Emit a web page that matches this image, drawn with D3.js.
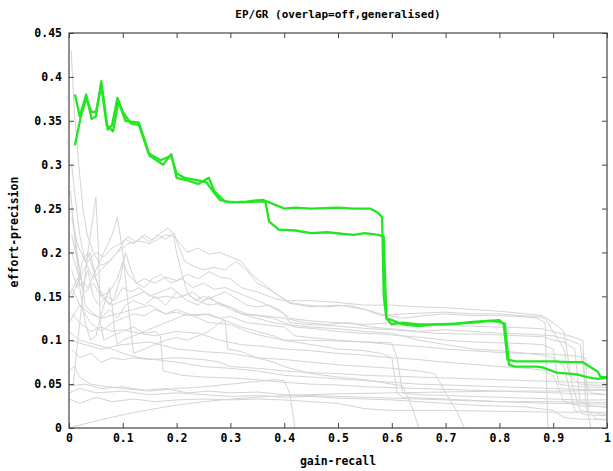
<!DOCTYPE html>
<html>
<head>
<meta charset="utf-8">
<script src="https://cdn.jsdelivr.net/npm/d3@7"></script>
<style>
  body { margin: 0; background: #fff; }
  text { font-family: "DejaVu Sans Mono", "Liberation Mono", monospace; font-weight: bold; fill: #000; }
</style>
</head>
<body>
<svg id="chart" width="613" height="471"></svg>
<script>
// Axis ticks and labels
const xTicks = [0, 0.1, 0.2, 0.3, 0.4, 0.5, 0.6, 0.7, 0.8, 0.9, 1];
const xTickLabels = ["0", "0.1", "0.2", "0.3", "0.4", "0.5", "0.6", "0.7", "0.8", "0.9", "1"];
const yTicks = [0, 0.05, 0.1, 0.15, 0.2, 0.25, 0.3, 0.35, 0.4, 0.45];
const yTickLabels = ["0", "0.05", "0.1", "0.15", "0.2", "0.25", "0.3", "0.35", "0.4", "0.45"];

// Highlighted runs: [gain-recall, effort-precision]
const runGreenA = [[0.011,0.380],[0.02,0.355],[0.032,0.38],[0.042,0.352],[0.05,0.355],[0.06,0.395],[0.072,0.340],[0.08,0.345],[0.09,0.376],[0.1,0.36],[0.115,0.347],[0.13,0.345],[0.148,0.313],[0.17,0.305],[0.19,0.31],[0.2,0.29],[0.215,0.285],[0.24,0.282],[0.255,0.280],[0.28,0.26],[0.3,0.257],[0.33,0.258],[0.36,0.26],[0.38,0.255],[0.4,0.250],[0.42,0.251],[0.45,0.250],[0.5,0.251],[0.53,0.250],[0.56,0.250],[0.575,0.245],[0.582,0.24],[0.585,0.15],[0.59,0.125],[0.6,0.118],[0.62,0.12],[0.65,0.118],[0.7,0.118],[0.75,0.12],[0.78,0.122],[0.8,0.123],[0.808,0.118],[0.815,0.078],[0.83,0.076],[0.87,0.076],[0.9,0.076],[0.93,0.075],[0.955,0.075],[0.983,0.064],[0.988,0.058],[1.0,0.058]];
const runGreenB = [[0.011,0.322],[0.022,0.355],[0.032,0.375],[0.042,0.36],[0.05,0.36],[0.06,0.39],[0.07,0.345],[0.082,0.338],[0.092,0.372],[0.105,0.35],[0.13,0.348],[0.15,0.31],[0.175,0.30],[0.19,0.312],[0.2,0.285],[0.22,0.282],[0.24,0.278],[0.26,0.285],[0.27,0.27],[0.29,0.258],[0.32,0.257],[0.35,0.258],[0.365,0.258],[0.372,0.235],[0.39,0.226],[0.42,0.225],[0.45,0.222],[0.48,0.223],[0.51,0.221],[0.53,0.220],[0.55,0.222],[0.575,0.220],[0.585,0.218],[0.59,0.125],[0.6,0.123],[0.62,0.118],[0.65,0.116],[0.68,0.118],[0.72,0.119],[0.75,0.121],[0.78,0.122],[0.8,0.121],[0.81,0.119],[0.818,0.072],[0.83,0.070],[0.87,0.070],[0.88,0.069],[0.906,0.063],[0.944,0.061],[0.963,0.058],[0.982,0.056],[1.0,0.057]];

// Background runs
const run01 = [[0.004,0.43],[0.01,0.36],[0.018,0.3],[0.026,0.25],[0.034,0.22],[0.045,0.2],[0.06,0.185],[0.075,0.19],[0.09,0.2],[0.105,0.215],[0.12,0.21],[0.135,0.218],[0.15,0.212],[0.165,0.22],[0.18,0.215],[0.195,0.222],[0.205,0.205],[0.215,0.19],[0.23,0.185],[0.25,0.18],[0.27,0.183],[0.29,0.18],[0.31,0.19],[0.33,0.18],[0.35,0.165],[0.38,0.155],[0.41,0.143],[0.44,0.14],[0.48,0.138],[0.52,0.14],[0.55,0.135],[0.58,0.13],[0.62,0.125],[0.66,0.128],[0.7,0.13],[0.75,0.128],[0.8,0.128],[0.84,0.127],[0.87,0.125],[0.885,0.12],[0.89,0.0]];
const run02 = [[0.005,0.3],[0.012,0.26],[0.02,0.22],[0.03,0.19],[0.04,0.2],[0.05,0.17],[0.06,0.15],[0.075,0.155],[0.09,0.17],[0.1,0.19],[0.11,0.175],[0.125,0.165],[0.14,0.17],[0.16,0.165],[0.18,0.172],[0.2,0.168],[0.22,0.175],[0.24,0.17],[0.26,0.178],[0.28,0.172],[0.3,0.17],[0.32,0.16],[0.35,0.155],[0.38,0.148],[0.4,0.145],[0.45,0.145],[0.5,0.143],[0.55,0.14],[0.6,0.14],[0.65,0.138],[0.7,0.137],[0.75,0.135],[0.8,0.133],[0.85,0.13],[0.88,0.128],[0.9,0.12],[0.92,0.11],[0.935,0.05],[0.95,0.02],[1.0,0.015]];
const run03 = [[0.005,0.15],[0.02,0.17],[0.035,0.16],[0.05,0.18],[0.065,0.2],[0.08,0.22],[0.09,0.24],[0.1,0.2],[0.11,0.14],[0.12,0.085],[0.14,0.09],[0.16,0.095],[0.18,0.1],[0.2,0.103],[0.22,0.1],[0.24,0.105],[0.26,0.11],[0.28,0.12],[0.29,0.123],[0.295,0.09],[0.32,0.087],[0.35,0.08],[0.38,0.075],[0.4,0.07],[0.45,0.062],[0.5,0.058],[0.55,0.055],[0.6,0.05],[0.62,0.048],[0.64,0.02],[0.65,0.0]];
const run04 = [[0.008,0.05],[0.02,0.12],[0.035,0.2],[0.05,0.263],[0.055,0.2],[0.058,0.12],[0.065,0.1],[0.08,0.105],[0.1,0.11],[0.12,0.115],[0.14,0.108],[0.16,0.11],[0.17,0.105],[0.175,0.065],[0.19,0.063],[0.21,0.06],[0.25,0.058],[0.3,0.057],[0.35,0.055],[0.4,0.052],[0.45,0.05],[0.5,0.049],[0.55,0.047],[0.6,0.046],[0.65,0.045],[0.7,0.044],[0.75,0.043],[0.8,0.042],[0.85,0.041],[0.9,0.04],[0.95,0.039],[1.0,0.038]];
const run05 = [[0.0,0.0],[0.05,0.008],[0.1,0.015],[0.15,0.021],[0.2,0.026],[0.25,0.03],[0.3,0.033],[0.35,0.035],[0.4,0.037],[0.5,0.039],[0.6,0.04],[0.7,0.041],[0.8,0.042],[0.9,0.042],[1.0,0.043]];
const run06 = [[0.0,0.048],[0.03,0.05],[0.06,0.045],[0.1,0.047],[0.14,0.043],[0.18,0.045],[0.22,0.04],[0.26,0.042],[0.3,0.04],[0.35,0.041],[0.4,0.038],[0.45,0.037],[0.5,0.036],[0.55,0.035],[0.6,0.034],[0.7,0.032],[0.8,0.03],[0.9,0.03],[1.0,0.029]];
const run07 = [[0.0,0.033],[0.02,0.028],[0.05,0.035],[0.08,0.03],[0.12,0.033],[0.16,0.03],[0.2,0.032],[0.25,0.033],[0.3,0.032],[0.35,0.033],[0.4,0.032],[0.45,0.03],[0.5,0.028],[0.55,0.022],[0.6,0.02],[0.7,0.02],[0.8,0.019],[0.9,0.018],[1.0,0.018]];
const run08 = [[0.0,0.065],[0.01,0.07],[0.02,0.058],[0.04,0.05],[0.06,0.048],[0.1,0.045],[0.15,0.042],[0.2,0.045],[0.25,0.047],[0.3,0.05],[0.35,0.053],[0.38,0.055],[0.4,0.054],[0.41,0.04],[0.42,0.0]];
const run09 = [[0.0,0.12],[0.02,0.14],[0.04,0.13],[0.06,0.125],[0.09,0.13],[0.12,0.135],[0.15,0.14],[0.18,0.13],[0.2,0.135],[0.23,0.128],[0.26,0.12],[0.3,0.118],[0.33,0.11],[0.36,0.105],[0.4,0.1],[0.45,0.1],[0.5,0.099],[0.55,0.098],[0.6,0.097],[0.61,0.08],[0.62,0.04],[0.65,0.038],[0.7,0.037],[0.75,0.036],[0.8,0.035],[0.85,0.034],[0.9,0.033],[0.95,0.032],[1.0,0.032]];
const run10 = [[0.0,0.1],[0.03,0.095],[0.06,0.09],[0.1,0.095],[0.15,0.098],[0.2,0.09],[0.25,0.087],[0.3,0.085],[0.35,0.08],[0.4,0.078],[0.45,0.075],[0.5,0.072],[0.55,0.07],[0.6,0.068],[0.65,0.065],[0.68,0.062],[0.7,0.04],[0.72,0.02],[0.735,0.0]];
const run11 = [[0.005,0.25],[0.015,0.2],[0.025,0.16],[0.035,0.18],[0.045,0.15],[0.055,0.14],[0.07,0.15],[0.085,0.145],[0.1,0.16],[0.115,0.155],[0.13,0.16],[0.15,0.15],[0.17,0.155],[0.19,0.16],[0.21,0.15],[0.23,0.155],[0.25,0.145],[0.27,0.15],[0.29,0.155],[0.31,0.148],[0.33,0.14],[0.35,0.138],[0.37,0.14],[0.4,0.13],[0.41,0.12],[0.44,0.118],[0.48,0.117],[0.52,0.115],[0.56,0.113],[0.6,0.112],[0.64,0.11],[0.68,0.108],[0.72,0.107],[0.76,0.107],[0.8,0.106],[0.84,0.105],[0.88,0.104],[0.9,0.1],[0.92,0.098],[0.94,0.09],[0.95,0.03],[0.97,0.025],[1.0,0.024]];
const run12 = [[0.005,0.22],[0.02,0.18],[0.03,0.14],[0.045,0.13],[0.06,0.125],[0.075,0.135],[0.09,0.125],[0.105,0.14],[0.12,0.145],[0.14,0.14],[0.16,0.15],[0.18,0.14],[0.2,0.155],[0.22,0.145],[0.24,0.14],[0.26,0.15],[0.28,0.14],[0.3,0.138],[0.32,0.13],[0.35,0.128],[0.38,0.125],[0.4,0.12],[0.42,0.115],[0.46,0.113],[0.5,0.11],[0.54,0.108],[0.58,0.107],[0.62,0.105],[0.66,0.103],[0.7,0.1],[0.75,0.098],[0.8,0.097],[0.85,0.096],[0.88,0.095],[0.9,0.09],[0.91,0.05],[0.93,0.048],[0.96,0.047],[1.0,0.046]];
const run13 = [[0.005,0.18],[0.015,0.16],[0.025,0.19],[0.035,0.2],[0.045,0.18],[0.055,0.16],[0.065,0.15],[0.075,0.14],[0.085,0.15],[0.095,0.17],[0.105,0.2],[0.115,0.18],[0.125,0.165],[0.14,0.16],[0.155,0.17],[0.17,0.175],[0.19,0.165],[0.21,0.17],[0.23,0.16],[0.25,0.165],[0.27,0.158],[0.29,0.16],[0.31,0.155],[0.33,0.15],[0.35,0.145],[0.37,0.14],[0.39,0.135],[0.41,0.125],[0.45,0.122],[0.5,0.12],[0.55,0.118],[0.6,0.12],[0.65,0.118],[0.7,0.117],[0.75,0.116],[0.8,0.115],[0.85,0.114],[0.88,0.113],[0.9,0.11],[0.93,0.105],[0.955,0.1],[0.96,0.03],[0.97,0.0]];
const run14 = [[0.005,0.16],[0.02,0.14],[0.04,0.12],[0.06,0.11],[0.08,0.12],[0.1,0.125],[0.12,0.13],[0.14,0.128],[0.16,0.135],[0.18,0.13],[0.2,0.132],[0.22,0.128],[0.25,0.13],[0.28,0.125],[0.3,0.127],[0.33,0.12],[0.36,0.118],[0.4,0.115],[0.42,0.105],[0.45,0.103],[0.5,0.1],[0.55,0.098],[0.6,0.095],[0.65,0.093],[0.7,0.09],[0.75,0.088],[0.8,0.086],[0.85,0.085],[0.9,0.084],[0.94,0.082],[0.96,0.08],[0.965,0.02],[0.98,0.01],[1.0,0.009]];
const run15 = [[0.005,0.2],[0.02,0.17],[0.035,0.19],[0.05,0.2],[0.065,0.195],[0.08,0.205],[0.095,0.21],[0.11,0.218],[0.125,0.212],[0.14,0.22],[0.155,0.214],[0.17,0.222],[0.185,0.228],[0.2,0.215],[0.22,0.2],[0.24,0.205],[0.26,0.198],[0.28,0.2],[0.3,0.195],[0.32,0.19],[0.34,0.175],[0.36,0.165],[0.38,0.155],[0.41,0.142],[0.45,0.138],[0.5,0.14],[0.55,0.135],[0.58,0.128],[0.62,0.13],[0.66,0.131],[0.7,0.132],[0.75,0.13],[0.8,0.13],[0.84,0.128],[0.87,0.127],[0.885,0.125],[0.9,0.11],[0.92,0.09],[0.93,0.06],[0.95,0.05],[1.0,0.048]];
const run16 = [[0.005,0.24],[0.015,0.21],[0.03,0.19],[0.045,0.17],[0.06,0.18],[0.075,0.19],[0.09,0.2],[0.11,0.21],[0.13,0.213],[0.15,0.21],[0.165,0.215],[0.18,0.22],[0.195,0.218],[0.2,0.2],[0.21,0.175],[0.22,0.155],[0.235,0.145],[0.25,0.15],[0.27,0.145],[0.29,0.14],[0.31,0.135],[0.33,0.13],[0.36,0.128],[0.4,0.125],[0.44,0.12],[0.48,0.118],[0.52,0.12],[0.56,0.115],[0.6,0.113],[0.65,0.11],[0.7,0.112],[0.75,0.11],[0.8,0.108],[0.85,0.107],[0.9,0.105],[0.93,0.1],[0.95,0.095],[0.96,0.05],[0.97,0.04],[1.0,0.038]];
const run17 = [[0.0,0.11],[0.02,0.1],[0.05,0.095],[0.08,0.09],[0.1,0.085],[0.13,0.08],[0.16,0.078],[0.2,0.075],[0.25,0.07],[0.3,0.068],[0.35,0.065],[0.4,0.06],[0.45,0.058],[0.5,0.056],[0.55,0.054],[0.6,0.052],[0.65,0.05],[0.7,0.049],[0.75,0.048],[0.8,0.047],[0.85,0.046],[0.9,0.045],[0.95,0.044],[1.0,0.044]];
const run18 = [[0.003,0.27],[0.01,0.22],[0.02,0.16],[0.03,0.12],[0.04,0.1],[0.05,0.105],[0.06,0.13],[0.07,0.15],[0.075,0.16],[0.08,0.14],[0.085,0.11],[0.09,0.095],[0.1,0.1],[0.12,0.105],[0.14,0.11],[0.16,0.115],[0.18,0.12],[0.2,0.125],[0.22,0.13],[0.24,0.128],[0.26,0.13],[0.28,0.125],[0.3,0.12],[0.32,0.115],[0.35,0.11],[0.38,0.105],[0.4,0.1],[0.45,0.095],[0.5,0.09],[0.55,0.088],[0.58,0.085],[0.6,0.08],[0.61,0.04],[0.62,0.035],[0.7,0.033],[0.8,0.03],[0.9,0.028],[1.0,0.027]];
const run19 = [[0.005,0.09],[0.02,0.08],[0.04,0.085],[0.06,0.075],[0.08,0.08],[0.1,0.078],[0.12,0.08],[0.15,0.078],[0.2,0.08],[0.25,0.078],[0.28,0.075],[0.3,0.07],[0.35,0.068],[0.4,0.065],[0.45,0.063],[0.5,0.062],[0.55,0.06],[0.6,0.059],[0.65,0.058],[0.7,0.057],[0.75,0.056],[0.8,0.055],[0.85,0.054],[0.9,0.053],[0.95,0.052],[1.0,0.051]];
const run20 = [[0.0,0.15],[0.015,0.17],[0.03,0.155],[0.045,0.165],[0.06,0.15],[0.08,0.14],[0.1,0.145],[0.12,0.15],[0.14,0.155],[0.16,0.148],[0.18,0.15],[0.2,0.148],[0.22,0.152],[0.24,0.145],[0.26,0.14],[0.28,0.142],[0.3,0.135],[0.32,0.13],[0.35,0.125],[0.38,0.12],[0.4,0.118],[0.45,0.115],[0.5,0.113],[0.55,0.11],[0.6,0.108],[0.65,0.1],[0.7,0.095],[0.75,0.09],[0.8,0.088],[0.85,0.085],[0.88,0.083],[0.9,0.08],[0.92,0.07],[0.94,0.02],[0.96,0.015],[1.0,0.014]];
const run21 = [[0.0,0.04],[0.02,0.045],[0.05,0.04],[0.1,0.042],[0.15,0.038],[0.2,0.04],[0.25,0.038],[0.3,0.036],[0.35,0.037],[0.4,0.035],[0.45,0.036],[0.5,0.034],[0.55,0.033],[0.6,0.032],[0.65,0.03],[0.7,0.028],[0.75,0.026],[0.8,0.025],[0.85,0.024],[0.9,0.02],[0.92,0.012],[0.95,0.01],[1.0,0.01]];
const run22 = [[0.005,0.13],[0.02,0.12],[0.04,0.11],[0.06,0.115],[0.08,0.11],[0.1,0.112],[0.13,0.108],[0.16,0.105],[0.2,0.11],[0.24,0.108],[0.28,0.1],[0.32,0.095],[0.36,0.093],[0.4,0.09],[0.45,0.088],[0.5,0.085],[0.55,0.083],[0.6,0.08],[0.65,0.078],[0.68,0.076],[0.7,0.075],[0.72,0.074],[0.76,0.072],[0.8,0.07],[0.85,0.068],[0.88,0.066],[0.9,0.06],[0.92,0.03],[0.95,0.025],[1.0,0.024]];

const grayRuns = [run01, run02, run03, run04, run05, run06, run07, run08, run09, run10, run11,
                  run12, run13, run14, run15, run16, run17, run18, run19, run20, run21, run22];
const greenRuns = [runGreenA, runGreenB];

const svg = d3.select("#chart");
const plotLeft = 69, plotRight = 607, plotTop = 33, plotBottom = 428;

const x = d3.scaleLinear().domain([0, 1]).range([plotLeft, plotRight]);
const y = d3.scaleLinear().domain([0, 0.45]).range([plotBottom, plotTop]);

const line = d3.line().x(d => x(d[0])).y(d => y(d[1]));

// Background runs in light grey
svg.append("g")
  .selectAll("path")
  .data(grayRuns)
  .join("path")
  .attr("d", line)
  .attr("fill", "none")
  .attr("stroke", "#d4d4d4")
  .attr("stroke-width", 1);

// Highlighted runs in green
svg.append("g")
  .selectAll("path")
  .data(greenRuns)
  .join("path")
  .attr("d", line)
  .attr("fill", "none")
  .attr("stroke", "#22e622")
  .attr("stroke-width", 2.3)
  .attr("stroke-linejoin", "round");

// Axes with inward ticks, mirrored on top and right
const fmtX = d => xTickLabels[xTicks.indexOf(d)];
const fmtY = d => yTickLabels[yTicks.indexOf(d)];

function styleAxis(g) {
  g.attr("font-family", null).attr("font-size", null);
  g.select(".domain").remove();
  g.selectAll(".tick line").attr("stroke", "#444").attr("stroke-width", 1);
  g.selectAll(".tick text").style("font-size", "11.5px");
}

svg.append("g")
  .attr("transform", `translate(0,${plotBottom})`)
  .call(d3.axisBottom(x).tickValues(xTicks).tickFormat(fmtX).tickSize(-5).tickPadding(6))
  .call(styleAxis);

svg.append("g")
  .attr("transform", `translate(${plotLeft},0)`)
  .call(d3.axisLeft(y).tickValues(yTicks).tickFormat(fmtY).tickSize(-5).tickPadding(7))
  .call(styleAxis);

svg.append("g")
  .attr("transform", `translate(0,${plotTop})`)
  .call(d3.axisTop(x).tickValues(xTicks).tickFormat("").tickSize(-5))
  .call(styleAxis);

svg.append("g")
  .attr("transform", `translate(${plotRight},0)`)
  .call(d3.axisRight(y).tickValues(yTicks).tickFormat("").tickSize(-5))
  .call(styleAxis);

// Plot border
svg.append("rect")
  .attr("x", plotLeft).attr("y", plotTop)
  .attr("width", plotRight - plotLeft).attr("height", plotBottom - plotTop)
  .attr("fill", "none")
  .attr("stroke", "#444")
  .attr("stroke-width", 1.2);

// Title and axis labels
svg.append("text")
  .attr("x", (plotLeft + plotRight) / 2).attr("y", 18)
  .attr("text-anchor", "middle")
  .style("font-size", "11px")
  .text("EP/GR (overlap=off,generalised)");

svg.append("text")
  .attr("x", (plotLeft + plotRight) / 2).attr("y", 465)
  .attr("text-anchor", "middle")
  .style("font-size", "11.5px")
  .text("gain-recall");

svg.append("text")
  .attr("transform", "translate(18,232) rotate(-90)")
  .attr("text-anchor", "middle")
  .style("font-size", "11.5px")
  .text("effort-precision");
</script>
</body>
</html>
